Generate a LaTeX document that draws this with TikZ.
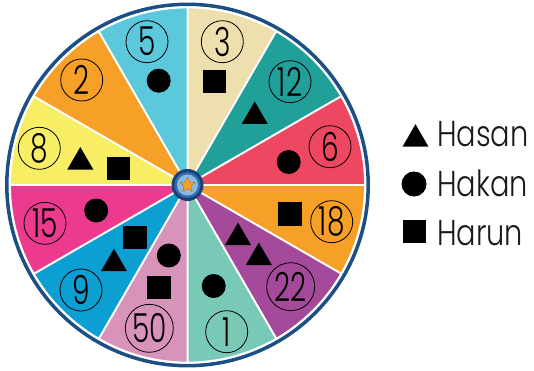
\documentclass[tikz,border=0pt]{standalone}
\usepackage{xcolor}
\usepackage{fontspec}
\usepackage{tikz}
\usetikzlibrary{shapes.geometric}
\setmainfont{Poppins}
\newfontfamily\numfont{Poppins Light}[FakeStretch=0.7]
\newfontfamily\keyfont{Poppins Light}[FakeStretch=0.8]
\definecolor{rimblue}{RGB}{28,80,132}
\definecolor{secbeige}{RGB}{238,224,174}
\definecolor{secteal}{RGB}{33,160,154}
\definecolor{secred}{RGB}{238,71,98}
\definecolor{secorange}{RGB}{246,160,40}
\definecolor{secpurple}{RGB}{165,74,155}
\definecolor{secmint}{RGB}{121,201,183}
\definecolor{secpink}{RGB}{216,147,187}
\definecolor{secblue}{RGB}{11,160,209}
\definecolor{secmagenta}{RGB}{236,58,143}
\definecolor{secyellow}{RGB}{248,238,101}
\definecolor{seccyan}{RGB}{91,200,220}
\definecolor{hubnavy}{RGB}{30,62,120}
\definecolor{hubblue}{RGB}{50,110,180}
\definecolor{hublight}{RGB}{140,185,228}
\definecolor{starorange}{RGB}{247,160,40}

\begin{document}
\begin{tikzpicture}[
x=1pt, y=1pt,
sector/.style={draw=white, line width=1.8pt},
number/.style={circle, draw=black, line width=0.8pt, minimum size=42pt, inner sep=0pt, font=\numfont\fontsize{40}{40}\selectfont},
dot/.style={circle, fill=black, minimum size=24pt, inner sep=0pt},
box/.style={rectangle, fill=black, minimum size=23.5pt, inner sep=0pt},
tri/.style={regular polygon, regular polygon sides=3, fill=black, minimum size=30pt, inner sep=0pt, outer sep=0pt},
keytext/.style={anchor=base west, inner sep=0pt, font=\keyfont\fontsize{36}{36}\selectfont, text=black!90}
]

\useasboundingbox (0,0) rectangle (534,370);

\coordinate (hub) at (187.5,185);

% Rim

\fill[white] (hub) circle (182.5);
\draw[rimblue, line width=3.5pt] (hub) circle (180.7);

% Sectors (clockwise from the top)

\fill[secbeige, sector] (hub) -- ++(90:177.5) arc (90:60:177.5) -- cycle;
\fill[secteal, sector] (hub) -- ++(60:177.5) arc (60:30:177.5) -- cycle;
\fill[secred, sector] (hub) -- ++(30:177.5) arc (30:0:177.5) -- cycle;
\fill[secorange, sector] (hub) -- ++(0:177.5) arc (0:-30:177.5) -- cycle;
\fill[secpurple, sector] (hub) -- ++(-30:177.5) arc (-30:-60:177.5) -- cycle;
\fill[secmint, sector] (hub) -- ++(-60:177.5) arc (-60:-90:177.5) -- cycle;
\fill[secpink, sector] (hub) -- ++(-90:177.5) arc (-90:-120:177.5) -- cycle;
\fill[secblue, sector] (hub) -- ++(-120:177.5) arc (-120:-150:177.5) -- cycle;
\fill[secmagenta, sector] (hub) -- ++(-150:177.5) arc (-150:-180:177.5) -- cycle;
\fill[secyellow, sector] (hub) -- ++(180:177.5) arc (180:150:177.5) -- cycle;
\fill[secorange, sector] (hub) -- ++(150:177.5) arc (150:120:177.5) -- cycle;
\fill[seccyan, sector] (hub) -- ++(120:177.5) arc (120:90:177.5) -- cycle;

% Numbers

\node[number] (n3) at (222.3,328.3) {3};
\node[number] (n12) at (290,288.3) {12};
\node[number] (n6) at (330,223.3) {6};
\node[number] (n18) at (331.7,148.3) {18};
\node[number, minimum size=48pt] (n22) at (290.7,83.3) {22};
\node[number] (n1) at (226.7,38.3) {1};
\node[number, minimum size=48pt] (n50) at (149.3,41.7) {50};
\node[number] (n9) at (81,80) {9};
\node[number] (n15) at (45,146.7) {15};
\node[number] (n8) at (39.3,221.7) {8};
\node[number] (n2) at (81.7,290) {2};
\node[number] (n5) at (147,328.3) {5};

% Marks in the sectors

\node[box] (s3) at (214.3,288.3) {};
\node[tri] (t12) at (254.7,253.6) {};
\node[dot] (c6) at (288.7,208) {};
\node[box] (s18) at (290,156) {};
\node[tri] (t22a) at (238,132.5) {};
\node[tri] (t22b) at (258.8,112.5) {};
\node[dot] (c1) at (213.7,84) {};
\node[dot] (c50) at (168.8,114.5) {};
\node[box] (s50) at (159,82.3) {};
\node[box] (s9) at (135,132.5) {};
\node[tri] (t9) at (114,106.3) {};
\node[dot] (c15) at (96.2,159.5) {};
\node[tri] (t8) at (80.3,208) {};
\node[box] (s8) at (118.7,201.3) {};
\node[dot] (c5) at (158.7,289.3) {};

% Hub

\node[circle, fill=hubnavy, minimum size=32pt, inner sep=0pt] (hubring) at (hub) {};
\node[circle, fill=hubblue, minimum size=26pt, inner sep=0pt] (hubmid) at (hub) {};
\node[circle, fill=hublight, minimum size=21pt, inner sep=0pt] (hubface) at (hub) {};
\node[star, star points=5, star point ratio=2.2, fill=starorange, draw=starorange!70!black, line width=0.4pt, minimum size=16pt, inner sep=0pt] (hubstar) at (hub) {};

% Key

\node[tri] (keytri) at (415.5,230.8) {};
\node[keytext] (hasan) at (437,224) {Hasan};
\node[dot, minimum size=25pt] (keydot) at (414,186) {};
\node[keytext] (hakan) at (437,174) {Hakan};
\node[box] (keybox) at (414.5,138.3) {};
\node[keytext] (harun) at (437,125) {Harun};

\end{tikzpicture}
\end{document}
